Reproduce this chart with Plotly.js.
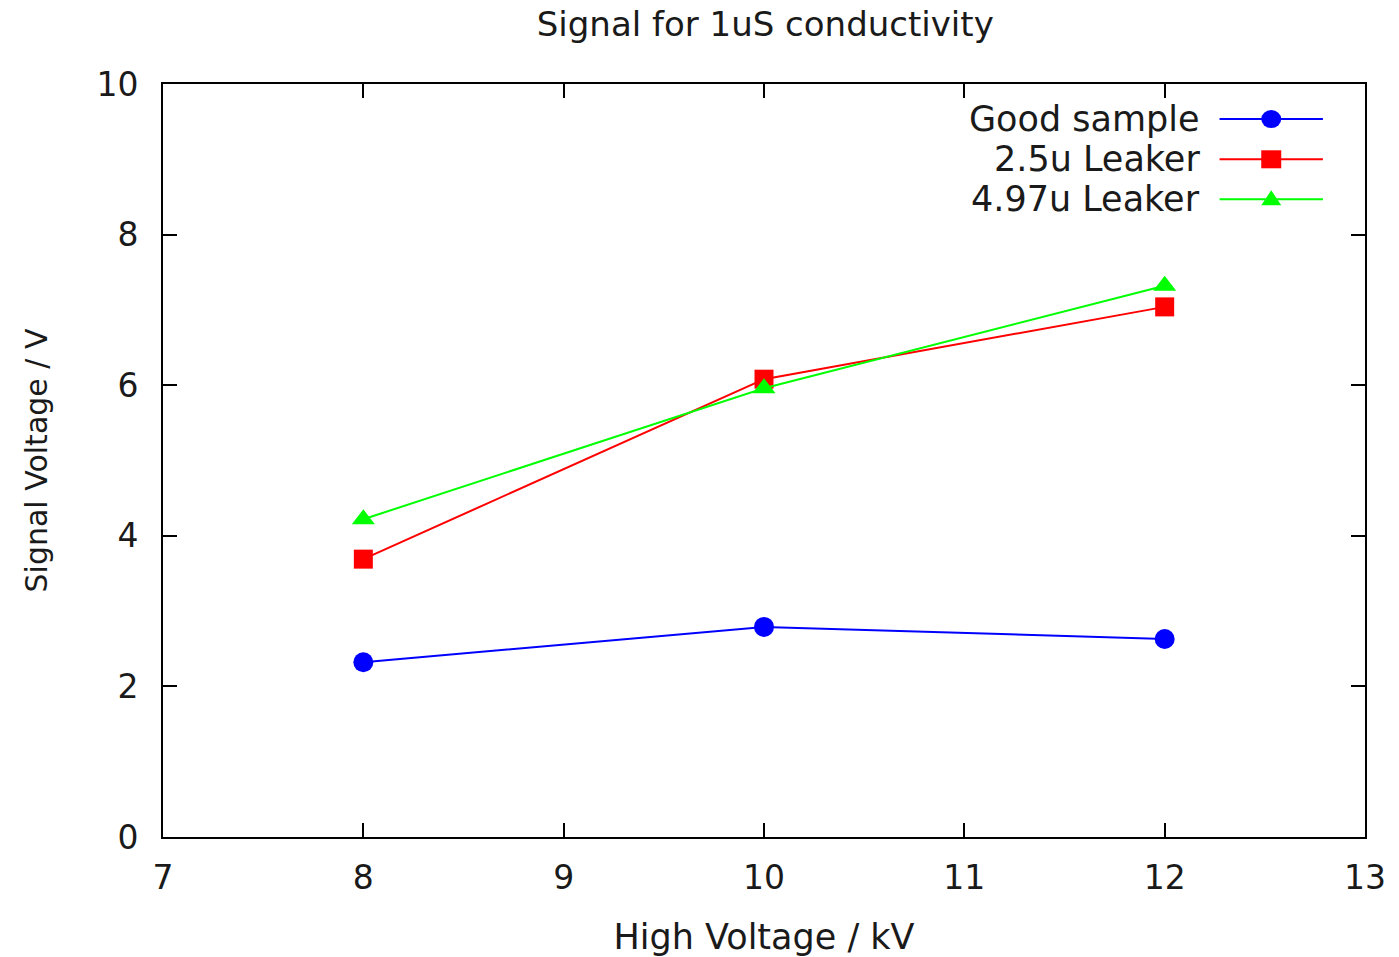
<!DOCTYPE html>
<html>
<head>
<meta charset="utf-8">
<script src="https://cdn.plot.ly/plotly-3.0.1.min.js"></script>
<style>html,body{margin:0;padding:0;background:#fff;}#chart{width:1399px;height:957px;}</style>
</head>
<body>
<div id="chart"></div>
<script>
const highVoltage = [8, 10, 12];
const goodSample = [2.32, 2.79, 2.63];
const leaker25 = [3.69, 6.08, 7.04];
const leaker497 = [4.22, 5.96, 7.32];
const seriesNames = ["Good sample", "2.5u Leaker", "4.97u Leaker"];
const xTicks = [7, 8, 9, 10, 11, 12, 13];
const yTicks = [0, 2, 4, 6, 8, 10];

const FONT = "DejaVu Sans, Liberation Sans, Arial, sans-serif";
const TXT = "#1a1a1a";
const colors = ["#0000ff", "#ff0000", "#00ff00"];
const symbols = ["circle", "square", "triangle-up"];
const sizes = [20, 19, 20];
const ys = [goodSample, leaker25, leaker497];

const traces = ys.map((y, i) => ({
  x: highVoltage, y: y, name: seriesNames[i], type: "scatter", mode: "lines+markers",
  line: {color: colors[i], width: 2},
  marker: {color: colors[i], symbol: symbols[i], size: sizes[i]},
  showlegend: false
}));

// custom legend (text left of key, like gnuplot)
const legY = [0.9535, 0.900, 0.847];
const annotations = seriesNames.map((n, i) => ({
  text: n, xref: "paper", yref: "paper", x: 0.864, y: legY[i],
  xanchor: "right", yanchor: "middle", showarrow: false,
  font: {family: FONT, size: 35, color: TXT}
}));
const shapes = [];
legY.forEach((yy, i) => {
  shapes.push({type: "line", xref: "paper", yref: "paper", x0: 0.879, x1: 0.965, y0: yy, y1: yy,
    line: {color: colors[i], width: 2}});
});
shapes.push({type: "circle", xref: "paper", yref: "paper", xsizemode: "pixel", ysizemode: "pixel",
  xanchor: 0.922, yanchor: legY[0], x0: -10, x1: 10, y0: -9, y1: 9,
  fillcolor: colors[0], line: {color: colors[0], width: 0}});
shapes.push({type: "rect", xref: "paper", yref: "paper", xsizemode: "pixel", ysizemode: "pixel",
  xanchor: 0.922, yanchor: legY[1], x0: -10, x1: 10, y0: -9, y1: 9,
  fillcolor: colors[1], line: {color: colors[1], width: 0}});
shapes.push({type: "path", xref: "paper", yref: "paper", xsizemode: "pixel", ysizemode: "pixel",
  xanchor: 0.922, yanchor: legY[2], path: "M -10,-6 L 10,-6 L 0,9 Z",
  fillcolor: colors[2], line: {color: colors[2], width: 0}});

const axisCommon = {
  showline: true, mirror: "ticks", linecolor: "#000", linewidth: 2,
  ticks: "inside", ticklen: 14, tickwidth: 2, tickcolor: "#000",
  showgrid: false, zeroline: false,
  tickfont: {family: FONT, size: 33, color: TXT}
};

const layout = {
  width: 1399, height: 957,
  margin: {l: 163, r: 34, t: 84, b: 120},
  paper_bgcolor: "#fff", plot_bgcolor: "#fff",
  title: {text: "Signal for 1uS conductivity", x: 0.547, xanchor: "center", y: 0.975, yanchor: "middle",
    font: {family: FONT, size: 34, color: TXT}},
  xaxis: Object.assign({}, axisCommon, {
    range: [7, 13], tickvals: xTicks, ticktext: xTicks.map(String), ticklabelstandoff: 10,
    title: {text: "High Voltage / kV", standoff: 30, font: {family: FONT, size: 35, color: TXT}}
  }),
  yaxis: Object.assign({}, axisCommon, {
    range: [0, 10], tickvals: yTicks, ticktext: yTicks.map(String), ticklabelstandoff: 16,
    title: {text: "Signal Voltage / V", standoff: 40, font: {family: FONT, size: 30, color: TXT}}
  }),
  annotations: annotations,
  shapes: shapes
};

Plotly.newPlot("chart", traces, layout, {displayModeBar: false, staticPlot: true});
</script>
</body>
</html>
